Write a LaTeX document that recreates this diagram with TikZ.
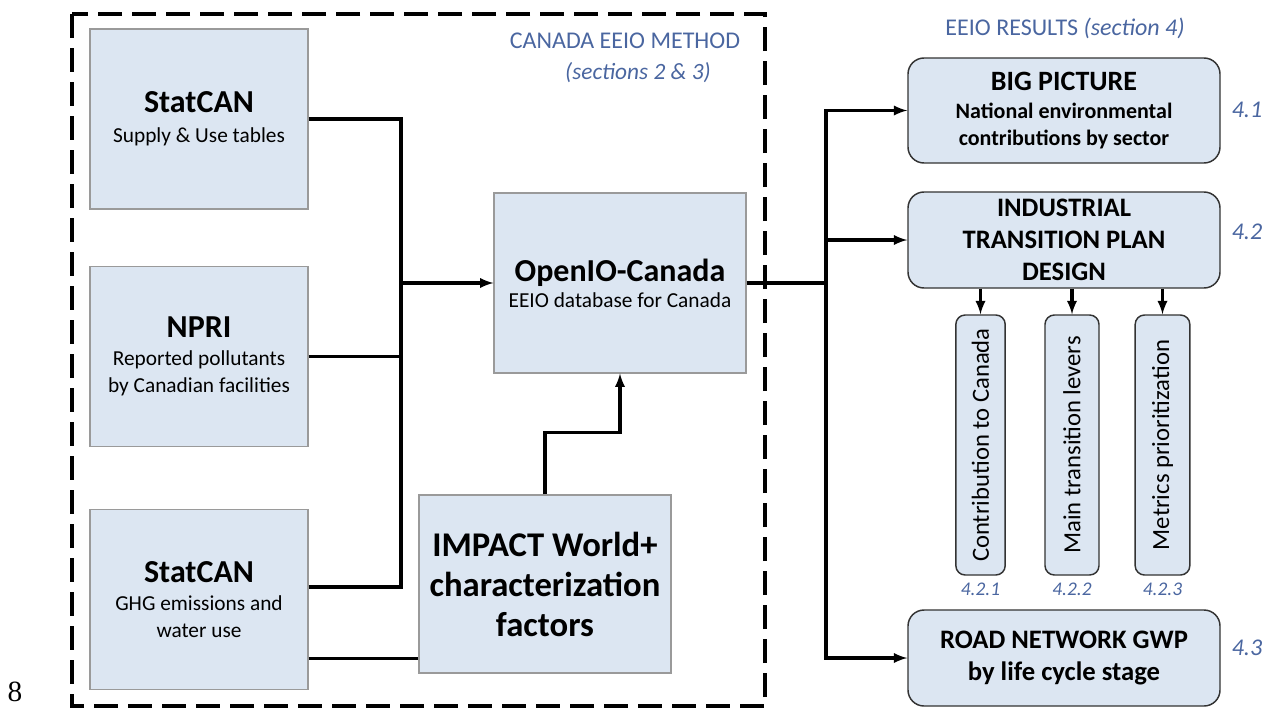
\documentclass[tikz,border=0pt]{standalone}
\usepackage{fontspec}
\setmainfont{Carlito}
\newfontfamily\pagefont{Liberation Serif}
\usetikzlibrary{arrows, positioning}
\definecolor{box area}{HTML}{DCE6F2}
\definecolor{src edge}{HTML}{9A9A9A}
\definecolor{res edge}{HTML}{333333}
\definecolor{note blue}{HTML}{4A66A0}
\newcommand{\ttl}[1]{{\bfseries\fontsize{24}{30}\selectfont #1}}
\tikzset{
  srcbox/.style={draw=src edge, fill=box area, line width=0.8pt, inner sep=0pt,
    minimum width=163.5pt, minimum height=135pt, align=center,
    font=\fontsize{16}{19.5}\selectfont},
  resbox/.style={draw=res edge, fill=box area, line width=1.1pt, inner sep=0pt,
    rounded corners=12pt, minimum width=234pt, align=center,
    font=\bfseries\fontsize{20}{24}\selectfont},
  subbox/.style={draw=res edge, fill=box area, line width=1.1pt, inner sep=0pt,
    rounded corners=7pt, minimum height=195pt, font=\fontsize{18.5}{20}\selectfont},
  note/.style={text=note blue, inner sep=0pt, font=\fontsize{18}{20}\selectfont},
  num/.style={text=note blue, inner sep=0pt, font=\itshape\fontsize{18}{20}\selectfont},
  subnum/.style={text=note blue, inner sep=0pt, font=\itshape\fontsize{14.5}{16}\selectfont},
  link/.style={line width=2.4pt},
  flow/.style={line width=2.4pt, -latex},
  frame/.style={line width=2.4pt, dash pattern=on 18pt off 7.5pt}
}
\begin{document}
\begin{tikzpicture}[x=0.75pt, y=-0.75pt]
    \useasboundingbox (0,0) rectangle (1271,708);
    \draw[frame] (72,14) rectangle (765,706);
    \node[note] (meth) at (625,41) {CANADA EEIO METHOD};
    \node[note, font=\itshape\fontsize{17.5}{20}\selectfont] (methsec) at (638,73) {(sections 2 \& 3)};
    \node[note] (res) at (1065,28) {EEIO RESULTS \textit{(section 4)}};
    % inputs
    \node[srcbox] (sup) at (199,119) {\ttl{StatCAN}\\[3pt]Supply \& Use tables};
    \node[srcbox, font=\fontsize{16}{20}\selectfont] (npri) at (199,356.5) {\ttl{NPRI}\\[1pt]Reported pollutants\\by Canadian facilities};
    \node[srcbox, font=\fontsize{16}{20}\selectfont] (ghg) at (199,599.5) {\ttl{StatCAN}\\[1pt]GHG emissions and\\water use};
    \node[srcbox, minimum width=189pt] (oio) at (620,283) {\ttl{OpenIO-Canada}\\EEIO database for Canada};
    \node[srcbox, minimum width=189pt, minimum height=133.5pt,
      font=\bfseries\fontsize{26}{30}\selectfont] (cf) at (545,584) {IMPACT World+\\characterization\\factors};
    % results
    \node[resbox, minimum height=78.75pt, font=\bfseries\fontsize{16.5}{20}\selectfont] (big) at (1064,110.5)
      {{\fontsize{21}{24}\selectfont BIG PICTURE}\\[1pt]National environmental\\contributions by sector};
    \node[resbox, minimum height=72pt] (itp) at (1064,240) {INDUSTRIAL\\TRANSITION PLAN\\DESIGN};
    \node[resbox, minimum height=72pt] (road) at (1064,658) {ROAD NETWORK GWP\\by life cycle stage};
    \node[subbox, minimum width=37pt] (ctc) at (980.5,445) {\rotatebox{90}{Contribution to Canada}};
    \node[subbox, minimum width=40.5pt] (mtl) at (1072,445) {\rotatebox{90}{Main transition levers}};
    \node[subbox, minimum width=41pt] (mp) at (1162.5,445) {\rotatebox{90}{Metrics prioritization}};
    \node[subnum, below=5pt of ctc] (n421) {4.2.1};
    \node[subnum, below=5pt of mtl] (n422) {4.2.2};
    \node[subnum, below=5pt of mp] (n423) {4.2.3};
    \node[num] (n41) at (1247,110) {4.1};
    \node[num] (n42) at (1247,232) {4.2};
    \node[num] (n43) at (1247,648) {4.3};
    \node[font=\pagefont\fontsize{22}{22}\selectfont, inner sep=0pt] (pg) at (15,692) {8};
    % connectors
    \coordinate (inhub) at (401,283);
    \coordinate (outhub) at (826,283);
    \draw[link] (sup.east) -| (inhub);
    \draw[link] (npri.east) -| (inhub);
    \draw[link] ([yshift=9.4pt]ghg.east) -| (inhub);
    \draw[flow] (inhub) -- (oio.west);
    \draw[link] ([yshift=-44pt]ghg.east) -- ([yshift=-44pt]ghg.east -| cf.west);
    \draw[flow] (cf.north) -- ++(0,-62) -| (oio.south);
    \draw[link] (oio.east) -- (outhub);
    \draw[flow] (outhub) |- (big.west);
    \draw[flow] (outhub) |- (itp.west);
    \draw[flow] (outhub) |- (road.west);
    \foreach \s in {ctc,mtl,mp}
      \draw[flow] (\s.north |- itp.south) -- (\s.north);
\end{tikzpicture}
\end{document}
